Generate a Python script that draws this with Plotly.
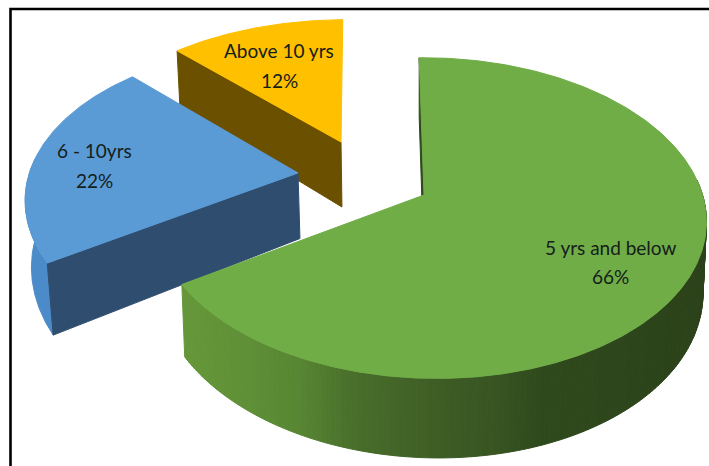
import numpy as np
import plotly.graph_objects as go

# ---- data ----
CATEGORIES = ["5 yrs and below", "6 - 10yrs", "Above 10 yrs"]
VALUES = [66, 22, 12]

# ---- drawing style: one entry per slice ----
FACE = ["#70AD47", "#5B9BD5", "#FFC000"]
CUT_WALL = ["#2E4A1C", "#2F4E6F", "#6B5000"]
APEX = [(424, 195), (298, 173), (341, 142)]
RX = [273.0, 274.0, 270.0]
RY = [157.0, 153.0, 140.0]
K = [0.144, 0.2, 0.144]
SHEAR = [5.5, 6.0, -2.0]
DEPTH = [68.0, 65.5, 65.0]
VP_T = [0.012, 0.016, 0.012]
LABEL_AT = [(610, 247, 276), (94, 150, 180), (279, 50, 80)]
DRAW_ORDER = [2, 1, 0]

# projection of the tilted disc onto the page
M = -0.02
VP_X = 420.0
WALL_FROM_V = -0.1

GREEN_X = [182, 250, 300, 349, 430, 500, 540, 710]
GREEN_RGB = [(102, 152, 58), (95, 143, 55), (88, 134, 51), (74, 112, 44),
             (63, 95, 38), (55, 84, 34), (47, 74, 28), (44, 66, 26)]
BLUE_WALL = "#4C8BC9"


def project(i, theta, r=1.0):
    """theta: degrees clockwise from 12 o'clock on the pie."""
    t = np.radians(theta)
    u, v = r * np.sin(t), -r * np.cos(t)
    w = 1 - K[i] * v + M * u
    x = APEX[i][0] + (RX[i] * u + SHEAR[i] * v) / w
    y = APEX[i][1] + RY[i] * v / w
    return x, y, w


def drop(i, x, y, w):
    return x + (VP_X - x) * VP_T[i], y + DEPTH[i] / w


def poly(xs, ys, color):
    return go.Scatter(x=list(xs), y=list(ys), mode="lines", fill="toself",
                      fillcolor=color, line=dict(color=color, width=1),
                      hoverinfo="skip", showlegend=False)


def green_color(x):
    return "rgb(%d,%d,%d)" % tuple(
        np.interp(x, GREEN_X, [c[k] for c in GREEN_RGB]) for k in range(3))


fig = go.Figure()
edges = np.cumsum([0] + VALUES) / sum(VALUES) * 360.0

for i in DRAW_ORDER:
    a0, a1 = edges[i], edges[i + 1]
    th = np.linspace(a0, a1, int(a1 - a0) * 2 + 2)
    x, y, w = project(i, th)
    xb, yb = drop(i, x, y, w)
    ax, ay, aw = project(i, 0.0, 0.0)
    axb, ayb = drop(i, ax, ay, aw)
    front = -np.cos(np.radians(th)) > WALL_FROM_V

    # outer wall, cut into strips for the shading (only the part that faces the viewer)
    if i == 0:
        idx = np.flatnonzero(front)
        for j0 in range(idx[0], idx[-1], 2):
            j1 = min(j0 + 2, idx[-1])
            xs, ys = x[j0:j1 + 1], y[j0:j1 + 1]
            xbs, ybs = xb[j0:j1 + 1], yb[j0:j1 + 1]
            fig.add_trace(poly(np.r_[xs, xbs[::-1], xs[0]],
                               np.r_[ys, ybs[::-1], ys[0]],
                               green_color(xs.mean())))
    elif i == 1:
        xs, ys, xbs, ybs = x[front], y[front], xb[front], yb[front]
        fig.add_trace(poly(np.r_[xs, xbs[::-1], xs[0]], np.r_[ys, ybs[::-1], ys[0]], BLUE_WALL))

    # cut wall: faces the viewer for blue and yellow, only a sliver for green
    fig.add_trace(poly([x[0], xb[0], axb, ax, x[0]],
                       [y[0], yb[0], ayb, ay, y[0]], CUT_WALL[i]))

    # top face
    fig.add_trace(poly(np.r_[ax, x, ax], np.r_[ay, y, ay], FACE[i]))

for name, value, (lx, ly1, ly2) in zip(CATEGORIES, VALUES, LABEL_AT):
    for text, ly in ((name, ly1), (f"{value}%", ly2)):
        fig.add_annotation(x=lx, y=ly, text=text, showarrow=False, xanchor="center",
                           yanchor="middle",
                           font=dict(family="Lato, sans-serif", size=19, color="#14201A"))

fig.add_shape(type="rect", x0=10.5, y0=9, x1=730, y1=490,
              line=dict(color="black", width=2.6), fillcolor="rgba(0,0,0,0)")

fig.update_xaxes(visible=False, range=[0, 709], fixedrange=True)
fig.update_yaxes(visible=False, range=[466, 0], fixedrange=True)
fig.update_layout(width=709, height=466, autosize=False,
                  margin=dict(l=0, r=0, t=0, b=0),
                  paper_bgcolor="white", plot_bgcolor="white", showlegend=False)
fig.write_html("out.html", config={"displayModeBar": False},
               post_script="document.body.style.margin='0';document.body.style.overflow='hidden';")
